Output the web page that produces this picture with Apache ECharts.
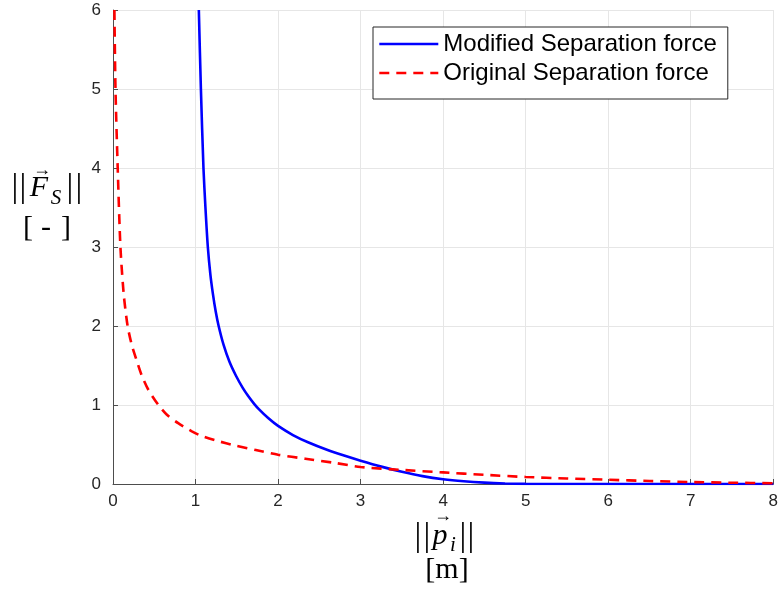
<!DOCTYPE html>
<html>
<head>
<meta charset="utf-8">
<script src="https://cdn.jsdelivr.net/npm/echarts@6/dist/echarts.min.js"></script>
<style>
  html, body { margin: 0; padding: 0; background: #fff; }
  #main { width: 781px; height: 596px; }
</style>
</head>
<body>
<div id="main"></div>
<script>
// values
const modX = [1.04, 1.065, 1.096, 1.12, 1.149, 1.18, 1.21, 1.245, 1.28, 1.34, 1.41, 1.49, 1.57, 1.64, 1.71, 1.77, 1.88, 2.0, 2.18, 2.37, 2.6, 2.8, 3.0, 3.25, 3.5, 3.75, 4.0, 4.25, 4.5, 4.75, 5.0, 5.5, 6, 7, 8];
const modY = [6.0, 5.0, 4.0, 3.5, 3.0, 2.65, 2.41, 2.18, 2.0, 1.76, 1.55, 1.37, 1.22, 1.11, 1.015, 0.945, 0.835, 0.735, 0.62, 0.525, 0.43, 0.36, 0.295, 0.22, 0.155, 0.1, 0.06, 0.034, 0.017, 0.007, 0.002, 0, 0, 0, 0];
const origX = [0.017, 0.03, 0.057, 0.09, 0.13, 0.177, 0.23, 0.285, 0.35, 0.43, 0.55, 0.65, 0.79, 0.95, 1.07, 1.25, 1.47, 1.73, 2.0, 2.33, 2.7, 3.0, 3.5, 4.0, 4.5, 5.0, 5.5, 6.0, 6.5, 7.0, 7.5, 8.0];
const origY = [6.0, 5.0, 4.0, 3.0, 2.4, 2.0, 1.75, 1.57, 1.37, 1.19, 1.0, 0.88, 0.77, 0.67, 0.61, 0.55, 0.49, 0.43, 0.37, 0.32, 0.265, 0.215, 0.178, 0.147, 0.116, 0.089, 0.07, 0.054, 0.038, 0.025, 0.016, 0.01];
const seriesNames = ['Modified Separation force', 'Original Separation force'];

const zip = (xs, ys) => xs.map((x, i) => [x, ys[i]]);

const chart = echarts.init(document.getElementById('main'));
const tickFont = { fontFamily: 'Liberation Sans', fontSize: 17, color: '#262626' };
const mathFont = 'Liberation Serif';

// one glyph of the LaTeX-like axis names
function glyph(text, x, y, size, italic) {
  return {
    type: 'text', x: x, y: y,
    style: {
      text: text, fontFamily: mathFont, fontSize: size,
      fontStyle: italic ? 'italic' : 'normal', fill: '#000',
      align: 'center', verticalAlign: 'middle'
    }
  };
}

const axisNames = [
  // ||F_S||  [ - ]
  glyph('|', 15, 188, 34), glyph('|', 23, 188, 34),
  glyph('F', 39, 188, 30, true), glyph('\u2192', 42, 170, 18),
  glyph('S', 56, 198, 21, true),
  glyph('|', 70, 188, 34), glyph('|', 79, 188, 34),
  glyph('[', 28, 228, 30), glyph('-', 46, 228, 30), glyph(']', 66, 228, 30),
  // ||p_i||  [m]
  glyph('|', 418, 537, 34), glyph('|', 427, 537, 34),
  glyph('p', 440, 536, 30, true), glyph('\u2192', 443, 516, 18),
  glyph('i', 453, 545, 21, true),
  glyph('|', 463, 537, 34), glyph('|', 471, 537, 34),
  glyph('[m]', 447, 570, 30)
];

chart.setOption({
  animation: false,
  grid: { left: 113, right: 4, top: 10, bottom: 112, containLabel: false },
  legend: {
    data: seriesNames,
    orient: 'vertical',
    left: 373,
    top: 27,
    padding: [5, 11, 14, 5],
    itemWidth: 59,
    itemHeight: 14,
    itemGap: 5,
    backgroundColor: '#fff',
    borderColor: '#262626',
    borderWidth: 1,
    borderRadius: 0,
    itemStyle: { opacity: 0 },
    lineStyle: { width: 2.6 },
    textStyle: { fontFamily: 'Liberation Sans', fontSize: 24, color: '#000', lineHeight: 24 }
  },
  xAxis: {
    type: 'value',
    min: 0,
    max: 8,
    interval: 1,
    axisLine: { onZero: false, lineStyle: { color: '#4d4d4d', width: 1 } },
    axisTick: { inside: true, length: 5, lineStyle: { color: '#4d4d4d' } },
    axisLabel: Object.assign({ margin: 9 }, tickFont),
    splitLine: { show: true, lineStyle: { color: '#e6e6e6', width: 1 } }
  },
  yAxis: {
    type: 'value',
    min: 0,
    max: 6,
    interval: 1,
    axisLine: { show: true, onZero: false, lineStyle: { color: '#4d4d4d', width: 1 } },
    axisTick: { show: true, inside: true, length: 5, lineStyle: { color: '#4d4d4d' } },
    axisLabel: Object.assign({ margin: 12 }, tickFont),
    splitLine: { show: true, lineStyle: { color: '#e6e6e6', width: 1 } }
  },
  series: [
    {
      name: seriesNames[0],
      type: 'line',
      data: zip(modX, modY),
      smooth: 0.25,
      symbol: 'none',
      clip: true,
      lineStyle: { color: '#0000ff', width: 2.6 },
      itemStyle: { color: '#0000ff' }
    },
    {
      name: seriesNames[1],
      type: 'line',
      data: zip(origX, origY),
      smooth: 0.25,
      symbol: 'none',
      clip: true,
      lineStyle: { color: '#ff0000', width: 2.6, type: [10, 7] },
      itemStyle: { color: '#ff0000' }
    }
  ],
  graphic: axisNames
});
</script>
</body>
</html>
